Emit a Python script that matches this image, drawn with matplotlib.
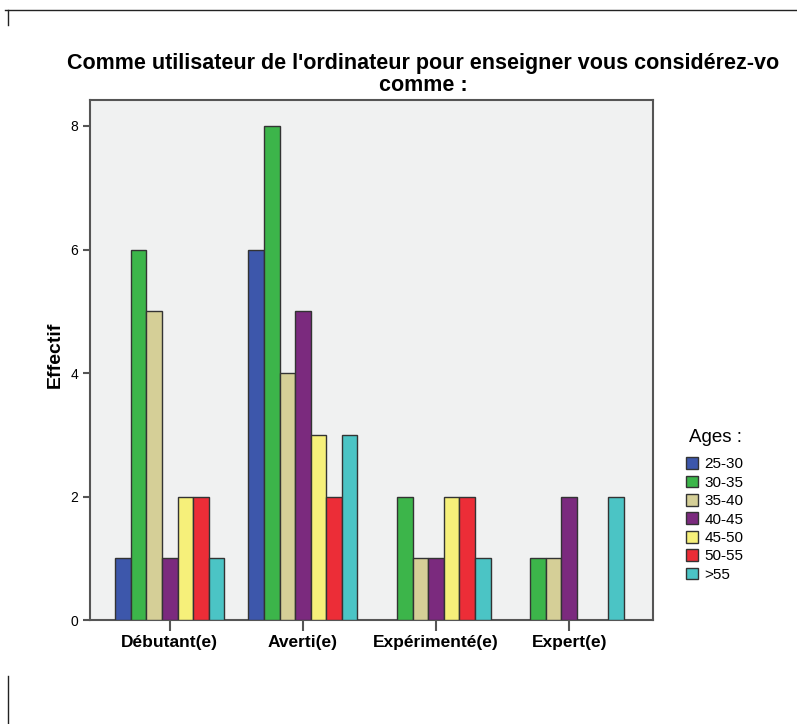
import numpy as np
import matplotlib.pyplot as plt
from matplotlib.lines import Line2D
from matplotlib.patches import Patch

plt.rcParams['font.family'] = ['Liberation Sans', 'DejaVu Sans']

niveaux = ['Débutant(e)', 'Averti(e)', 'Expérimenté(e)', 'Expert(e)']
ages = ['25-30', '30-35', '35-40', '40-45', '45-50', '50-55', '>55']
effectifs = {
    '25-30': [1, 6, 0, 0],
    '30-35': [6, 8, 2, 1],
    '35-40': [5, 4, 1, 1],
    '40-45': [1, 5, 1, 2],
    '45-50': [2, 3, 2, 0],
    '50-55': [2, 2, 2, 0],
    '>55':   [1, 3, 1, 2],
}
couleurs = ['#3d57ab', '#3cb54a', '#d5cf97', '#7b2a7e', '#f6f07a', '#ec2d37', '#4bc4c5']

fig = plt.figure(figsize=(7.97, 7.24), dpi=100)
ax = fig.add_axes([0.1129, 0.1436, 0.7064, 0.7182])
ax.set_facecolor('#f0f1f1')

x = np.arange(len(niveaux))
w = 0.117
for i, (age, c) in enumerate(zip(ages, couleurs)):
    vals = np.array(effectifs[age])
    keep = vals > 0
    ax.bar(x[keep] + (i - 3) * w, vals[keep], width=w, color=c,
           edgecolor='#333333', linewidth=1.0, zorder=3)

ax.set_xlim(-0.6, 3.63)
ax.set_ylim(0, 8.42)
ax.set_yticks([0, 2, 4, 6, 8])
ax.set_xticks(x)
ax.set_xticklabels(niveaux, fontsize=12.5, fontweight='bold')
ax.tick_params(axis='y', labelsize=10, length=5, width=1.5, color='#555555')
ax.tick_params(axis='x', length=8, width=1.5, color='#555555', pad=3)
for s in ax.spines.values():
    s.set_color('#555555')
    s.set_linewidth(1.5)

ax.set_ylabel('Effectif', fontsize=14, fontweight='bold')
ax.yaxis.set_label_coords(-0.046, 0.51)

fig.text(0.531, 0.897, "Comme utilisateur de l'ordinateur pour enseigner vous considérez-vo\ncomme :",
         ha='center', va='center', fontsize=15.5, fontweight='bold', linespacing=1.08)

# legend title placed on its own, entries below
fig.text(0.864, 0.389, 'Ages :', ha='left', va='baseline', fontsize=13.5)
handles = [Patch(facecolor=c, edgecolor='#333333', linewidth=1.0) for c in couleurs]
leg = fig.legend(handles, ages, loc='upper left', bbox_to_anchor=(0.853, 0.377),
                 frameon=False, fontsize=11, borderaxespad=0,
                 handlelength=0.8, handleheight=0.8, handletextpad=0.4,
                 labelspacing=0.28)

# page frame marks
fig.add_artist(Line2D([0.006, 1.0], [0.986, 0.986], color='#222222', lw=1))
fig.add_artist(Line2D([0.010, 0.010], [0.986, 0.965], color='#222222', lw=1))
fig.add_artist(Line2D([0.010, 0.010], [0.066, 0.0], color='#222222', lw=1))

fig.savefig('out.png', dpi=100)
